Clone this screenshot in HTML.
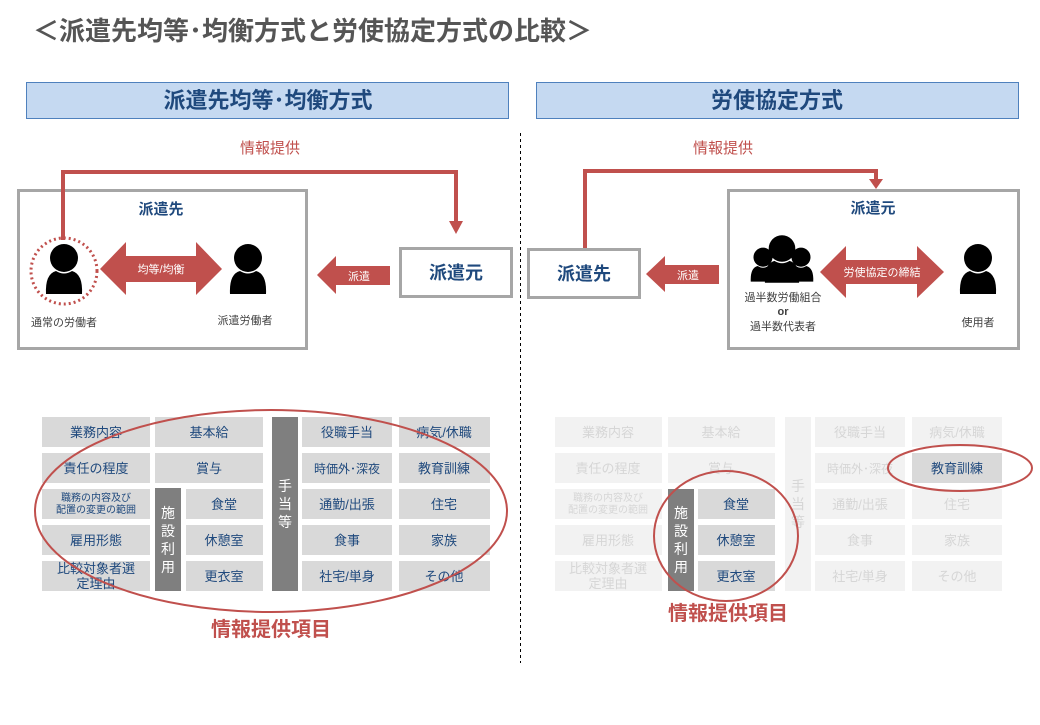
<!DOCTYPE html>
<html><head><meta charset="utf-8"><style>
body{margin:0;background:#fff;}
svg text{font-family:"Liberation Sans","Noto Sans CJK JP",sans-serif;}
</style></head><body>
<svg width="1040" height="720" viewBox="0 0 1040 720" xmlns="http://www.w3.org/2000/svg">
<defs>
<g id="p"><circle cx="0" cy="-10" r="14" fill="#000"/><path d="M-18 26 Q-19 6 -8 3 Q0 8 8 3 Q19 6 18 26 Z" fill="#000"/></g>
</defs>
<text x="33" y="40" font-size="26" font-weight="bold" fill="#555">＜派遣先均等･均衡方式と労使協定方式の比較＞</text>
<rect x="26.5" y="82.5" width="482" height="36" fill="#c5d9f1" stroke="#4f81bd"/>
<text x="268" y="108" font-size="22" font-weight="bold" fill="#1f497d" text-anchor="middle">派遣先均等･均衡方式</text>
<rect x="536.5" y="82.5" width="482" height="36" fill="#c5d9f1" stroke="#4f81bd"/>
<text x="777" y="108" font-size="22" font-weight="bold" fill="#1f497d" text-anchor="middle">労使協定方式</text>
<line x1="520.5" y1="133" x2="520.5" y2="663" stroke="#000" stroke-dasharray="3,3"/>

<text x="270" y="153" font-size="15" fill="#c0504d" text-anchor="middle">情報提供</text>
<rect x="18.5" y="190.5" width="288" height="158" fill="#fff" stroke="#a6a6a6" stroke-width="3"/>
<polyline points="63,240 63,172 456,172 456,222" fill="none" stroke="#c0504d" stroke-width="4"/>
<polygon points="449,221 463,221 456,234" fill="#c0504d"/>
<text x="161" y="214" font-size="15" font-weight="bold" fill="#1f497d" text-anchor="middle">派遣先</text>
<circle cx="64" cy="271" r="33" fill="none" stroke="#c0504d" stroke-width="3" stroke-dasharray="2,3"/>
<use href="#p" x="64" y="268"/>
<text x="64" y="326" font-size="11" fill="#404040" text-anchor="middle">通常の労働者</text>
<polygon points="100,269 126,242 126,256 196,256 196,242 222,269 196,295 196,282 126,282 126,295" fill="#c0504d"/>
<text x="161" y="273" font-size="11" fill="#fff" text-anchor="middle">均等/均衡</text>
<use href="#p" x="248" y="268"/>
<text x="245" y="324" font-size="11" fill="#404040" text-anchor="middle">派遣労働者</text>
<rect x="400.5" y="248.5" width="111" height="48" fill="#fff" stroke="#a6a6a6" stroke-width="3"/>
<text x="456" y="279" font-size="18" font-weight="bold" fill="#1f497d" text-anchor="middle">派遣元</text>
<polygon points="317,275 336,256 336,266 390,266 390,285 336,285 336,294" fill="#c0504d"/>
<text x="359" y="280" font-size="11" fill="#fff" text-anchor="middle">派遣</text>

<text x="723" y="153" font-size="15" fill="#c0504d" text-anchor="middle">情報提供</text>
<rect x="728.5" y="190.5" width="290" height="158" fill="#fff" stroke="#a6a6a6" stroke-width="3"/>
<polyline points="585,249 585,171 876,171 876,180" fill="none" stroke="#c0504d" stroke-width="4"/>
<polygon points="869,179 883,179 876,189" fill="#c0504d"/>
<text x="873" y="213" font-size="15" font-weight="bold" fill="#1f497d" text-anchor="middle">派遣元</text>
<rect x="528.5" y="249.5" width="111" height="48" fill="#fff" stroke="#a6a6a6" stroke-width="3"/>
<text x="584" y="280" font-size="18" font-weight="bold" fill="#1f497d" text-anchor="middle">派遣先</text>
<polygon points="646,274 665,256 665,265 719,265 719,284 665,284 665,292" fill="#c0504d"/>
<text x="688" y="279" font-size="11" fill="#fff" text-anchor="middle">派遣</text>
<g transform="translate(763,264) scale(0.68)"><use href="#p"/></g>
<g transform="translate(801,264) scale(0.68)"><use href="#p"/></g>
<g transform="translate(782,258) scale(0.95)"><use href="#p"/></g>
<text x="783" y="301" font-size="11" fill="#404040" text-anchor="middle">過半数労働組合</text>
<text x="783" y="315" font-size="11" fill="#404040" text-anchor="middle" font-weight="bold">or</text>
<text x="783" y="330" font-size="11" fill="#404040" text-anchor="middle">過半数代表者</text>
<polygon points="820,272 846,246 846,260 917,260 917,246 944,272 917,298 917,284 846,284 846,298" fill="#c0504d"/>
<text x="882" y="276" font-size="11" fill="#fff" text-anchor="middle">労使協定の締結</text>
<use href="#p" x="978" y="268"/>
<text x="978" y="326" font-size="11" fill="#404040" text-anchor="middle">使用者</text>

<g font-size="13" fill="#1f497d" text-anchor="middle">
<g fill="#d9d9d9">
<rect x="42" y="417" width="108" height="30"/><rect x="42" y="453" width="108" height="30"/><rect x="42" y="489" width="108" height="30"/><rect x="42" y="525" width="108" height="30"/><rect x="42" y="561" width="108" height="30"/>
<rect x="155" y="417" width="108" height="30"/><rect x="155" y="453" width="108" height="30"/>
<rect x="186" y="489" width="77" height="30"/><rect x="186" y="525" width="77" height="30"/><rect x="186" y="561" width="77" height="30"/>
<rect x="302" y="417" width="90" height="30"/><rect x="302" y="453" width="90" height="30"/><rect x="302" y="489" width="90" height="30"/><rect x="302" y="525" width="90" height="30"/><rect x="302" y="561" width="90" height="30"/>
<rect x="399" y="417" width="91" height="30"/><rect x="399" y="453" width="91" height="30"/><rect x="399" y="489" width="91" height="30"/><rect x="399" y="525" width="91" height="30"/><rect x="399" y="561" width="91" height="30"/>
</g>
<rect x="155" y="488" width="26" height="103" fill="#7f7f7f"/>
<rect x="272" y="417" width="26" height="174" fill="#7f7f7f"/>
<text x="96" y="437">業務内容</text><text x="96" y="473">責任の程度</text>
<text x="96" y="501" font-size="10">職務の内容及び</text><text x="96" y="513" font-size="10">配置の変更の範囲</text>
<text x="96" y="545">雇用形態</text><text x="96" y="573">比較対象者選</text><text x="96" y="588">定理由</text>
<text x="209" y="437">基本給</text><text x="209" y="473">賞与</text>
<text x="224" y="509">食堂</text><text x="224" y="545">休憩室</text><text x="224" y="581">更衣室</text>
<text x="347" y="437">役職手当</text><text x="347" y="473" font-size="12">時価外･深夜</text><text x="347" y="509">通勤/出張</text><text x="347" y="545">食事</text><text x="347" y="581">社宅/単身</text>
<text x="444" y="437">病気/休職</text><text x="444" y="473">教育訓練</text><text x="444" y="509">住宅</text><text x="444" y="545">家族</text><text x="444" y="581">その他</text>
<g fill="#fff" font-size="14"><text x="168" y="518">施</text><text x="168" y="536">設</text><text x="168" y="554">利</text><text x="168" y="572">用</text>
<text x="285" y="491">手</text><text x="285" y="509">当</text><text x="285" y="527">等</text></g>
</g>
<ellipse cx="271" cy="511" rx="236" ry="101" fill="none" stroke="#c0504d" stroke-width="2"/>
<text x="271" y="636" font-size="20" font-weight="bold" fill="#c0504d" text-anchor="middle">情報提供項目</text>

<g font-size="13" fill="#d6d6d6" text-anchor="middle">
<g fill="#f2f2f2">
<rect x="555" y="417" width="107" height="30"/><rect x="555" y="453" width="107" height="30"/><rect x="555" y="489" width="107" height="30"/><rect x="555" y="525" width="107" height="30"/><rect x="555" y="561" width="107" height="30"/>
<rect x="668" y="417" width="107" height="30"/><rect x="668" y="453" width="107" height="30"/>
<rect x="785" y="417" width="26" height="174"/>
<rect x="815" y="417" width="90" height="30"/><rect x="815" y="453" width="90" height="30"/><rect x="815" y="489" width="90" height="30"/><rect x="815" y="525" width="90" height="30"/><rect x="815" y="561" width="90" height="30"/>
<rect x="912" y="417" width="90" height="30"/><rect x="912" y="489" width="90" height="30"/><rect x="912" y="525" width="90" height="30"/><rect x="912" y="561" width="90" height="30"/>
</g>
<g fill="#d9d9d9"><rect x="698" y="489" width="77" height="30"/><rect x="698" y="525" width="77" height="30"/><rect x="698" y="561" width="77" height="30"/><rect x="912" y="453" width="90" height="30"/></g>
<rect x="668" y="489" width="26" height="102" fill="#7f7f7f"/>
<text x="608" y="437">業務内容</text><text x="608" y="473">責任の程度</text>
<text x="608" y="501" font-size="10">職務の内容及び</text><text x="608" y="513" font-size="10">配置の変更の範囲</text>
<text x="608" y="545">雇用形態</text><text x="608" y="573">比較対象者選</text><text x="608" y="588">定理由</text>
<text x="721" y="437">基本給</text><text x="721" y="473">賞与</text>
<text x="860" y="437">役職手当</text><text x="860" y="473" font-size="12">時価外･深夜</text><text x="860" y="509">通勤/出張</text><text x="860" y="545">食事</text><text x="860" y="581">社宅/単身</text>
<text x="957" y="437">病気/休職</text><text x="957" y="509">住宅</text><text x="957" y="545">家族</text><text x="957" y="581">その他</text>
<text x="798" y="491" font-size="14">手</text><text x="798" y="509" font-size="14">当</text><text x="798" y="527" font-size="14">等</text>
<g fill="#1f497d"><text x="736" y="509">食堂</text><text x="736" y="545">休憩室</text><text x="736" y="581">更衣室</text><text x="957" y="473">教育訓練</text></g>
<g fill="#fff" font-size="14"><text x="681" y="518">施</text><text x="681" y="536">設</text><text x="681" y="554">利</text><text x="681" y="572">用</text></g>
</g>
<ellipse cx="726" cy="536" rx="72" ry="65" fill="none" stroke="#c0504d" stroke-width="2"/>
<ellipse cx="960" cy="468" rx="72" ry="23" fill="none" stroke="#c0504d" stroke-width="2"/>
<text x="728" y="620" font-size="20" font-weight="bold" fill="#c0504d" text-anchor="middle">情報提供項目</text>
</svg>
</body></html>
